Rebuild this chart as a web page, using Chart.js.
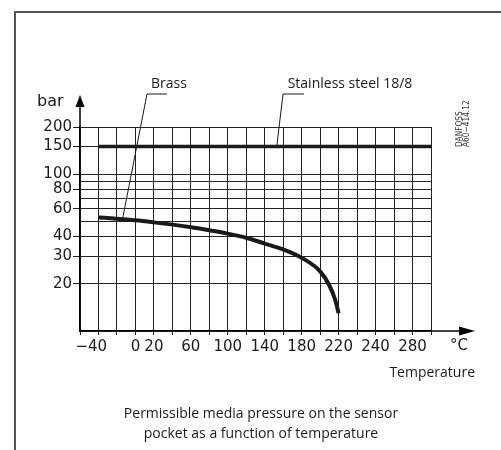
<!DOCTYPE html>
<html><head><meta charset="utf-8">
<script src="https://cdn.jsdelivr.net/npm/chart.js@4/dist/chart.umd.min.js"></script>
<style>html,body{margin:0;padding:0;background:#fff;}#wrap{width:501px;height:450px;position:relative}</style>
</head><body><div id="wrap"><canvas id="c" width="501" height="450"></canvas></div>
<script>
// ---- data ----
const brassTemps = [-40, -20, 0, 20, 40, 60, 80, 100, 120, 140, 160, 180, 200, 210, 216, 220];
const brassPressure = [53, 52, 50.8, 49.3, 47.7, 45.9, 43.9, 41.8, 39.3, 36.1, 33.1, 29.3, 24, 19.5, 16, 13];
const steelTemps = [-40, 320];
const steelPressure = [150, 150];
const xMin = -60, xMax = 320, xStep = 20;
const xTickValues = [-40, 0, 20, 60, 100, 140, 180, 220, 260, 300];
const xTickLabels = ['−40', '0', '20', '60', '100', '140', '180', '220', '240', '280'];
const yMin = 10, yMax = 200;
const yGridValues = [10, 20, 30, 40, 50, 60, 70, 80, 90, 100, 150, 200];
const yTickLabels = [20, 30, 40, 60, 80, 100, 150, 200];
const seriesNames = ['Brass', 'Stainless steel 18/8'];
const xUnit = '°C', yUnit = 'bar', xTitle = 'Temperature';
const captionLines = ['Permissible media pressure on the sensor', 'pocket as a function of temperature'];
const stampLines = ['DANFOSS', 'A60−414.12'];

const INK = '#1a1a1a';
const HUM = '"Open Sans", "Noto Sans", sans-serif';
const TICKF = '"DejaVu Sans", Verdana, sans-serif';

const toPts = (xs, ys) => xs.map((x, i) => ({x: x, y: ys[i]}));

const decor = {
  id: 'decor',
  afterDraw(chart) {
    const c = chart.ctx, xs = chart.scales.x, ys = chart.scales.y, a = chart.chartArea;
    c.save();
    // frame
    c.strokeStyle = '#555'; c.lineWidth = 2;
    c.beginPath(); c.moveTo(15, 450); c.lineTo(15, 12); c.lineTo(501, 12); c.stroke();
    // y axis arrow
    c.strokeStyle = '#000'; c.fillStyle = '#000'; c.lineWidth = 1.5;
    c.beginPath(); c.moveTo(a.left, a.top); c.lineTo(a.left, 104); c.stroke();
    c.beginPath(); c.moveTo(a.left, 95); c.lineTo(a.left - 4.5, 107); c.lineTo(a.left + 4.5, 107); c.closePath(); c.fill();
    // x axis arrow
    c.beginPath(); c.moveTo(a.right, a.bottom); c.lineTo(461, a.bottom); c.stroke();
    c.beginPath(); c.moveTo(475, a.bottom); c.lineTo(459, a.bottom - 4.5); c.lineTo(459, a.bottom + 4.5); c.closePath(); c.fill();
    // units
    c.fillStyle = INK;
    c.font = '16px ' + TICKF; c.textBaseline = 'middle';
    c.textAlign = 'left';
    c.fillText(yUnit, 37, 102);
    c.font = '15px ' + TICKF;
    c.textAlign = 'center'; c.fillText(xUnit, 459, 346);
    // axis title
    c.font = '14px ' + HUM; c.textAlign = 'right'; c.fillText(xTitle, 475, 373);
    // caption
    c.textAlign = 'center';
    c.fillText(captionLines[0], 261, 414);
    c.fillText(captionLines[1], 261, 434);
    // series labels and leaders
    c.fillText(seriesNames[0], 169, 84);
    c.fillText(seriesNames[1], 350, 84);
    c.strokeStyle = INK; c.lineWidth = 1;
    c.beginPath(); c.moveTo(167, 94); c.lineTo(147, 94);
    c.lineTo(xs.getPixelForValue(-14), ys.getPixelForValue(51.6)); c.stroke();
    c.beginPath(); c.moveTo(304, 94); c.lineTo(283, 94);
    c.lineTo(xs.getPixelForValue(153), ys.getPixelForValue(150)); c.stroke();
    // stamp
    c.font = '9.5px ' + TICKF; c.textAlign = 'left'; c.textBaseline = 'alphabetic';
    c.fillStyle = '#333';
    c.translate(462, 147); c.rotate(-Math.PI / 2); c.scale(0.78, 1);
    c.fillText(stampLines[0], 0, 0);
    c.fillText(stampLines[1], 0, 7);
    c.restore();
  }
};

new Chart(document.getElementById('c').getContext('2d'), {
  type: 'line',
  data: {
    datasets: [
      {label: seriesNames[0], data: toPts(brassTemps, brassPressure), borderColor: INK, borderWidth: 4,
       pointRadius: 0, cubicInterpolationMode: 'monotone', fill: false, borderCapStyle: 'butt'},
      {label: seriesNames[1], data: toPts(steelTemps, steelPressure), borderColor: INK, borderWidth: 3.5,
       pointRadius: 0, fill: false}
    ]
  },
  options: {
    responsive: false, animation: false, devicePixelRatio: 1,
    layout: {padding: {top: 127, right: 70, bottom: 0, left: 0}},
    plugins: {legend: {display: false}, tooltip: {enabled: false}},
    scales: {
      x: {
        type: 'linear', min: xMin, max: xMax,
        afterBuildTicks: s => { const t = []; for (let v = xMin; v <= xMax; v += xStep) t.push({value: v}); s.ticks = t; },
        afterFit: s => { s.height = 119; },
        grid: {color: '#222', lineWidth: 1, tickLength: 4, tickColor: '#222'},
        border: {display: true, color: '#000', width: 1.5},
        ticks: {autoSkip: false, maxRotation: 0, minRotation: 0, padding: 3, color: INK,
                font: {family: TICKF, size: 15},
                callback: v => { const i = xTickValues.indexOf(v); return i < 0 ? '' : (v === -40 ? xTickLabels[i] + '   ' : xTickLabels[i]); }}
      },
      y: {
        type: 'logarithmic', min: yMin, max: yMax,
        afterBuildTicks: s => { s.ticks = yGridValues.map(v => ({value: v})); },
        afterFit: s => { s.width = 80; },
        grid: {color: '#222', lineWidth: 1, tickLength: 7,
               tickColor: ctx => (ctx.tick && yTickLabels.includes(ctx.tick.value)) ? '#222' : 'rgba(0,0,0,0)'},
        border: {display: true, color: '#000', width: 1.5},
        ticks: {autoSkip: false, padding: 1, color: INK, font: {family: TICKF, size: 15},
                callback: v => yTickLabels.includes(v) ? String(v) : ''}
      }
    }
  },
  plugins: [decor]
});
</script>
</body></html>
